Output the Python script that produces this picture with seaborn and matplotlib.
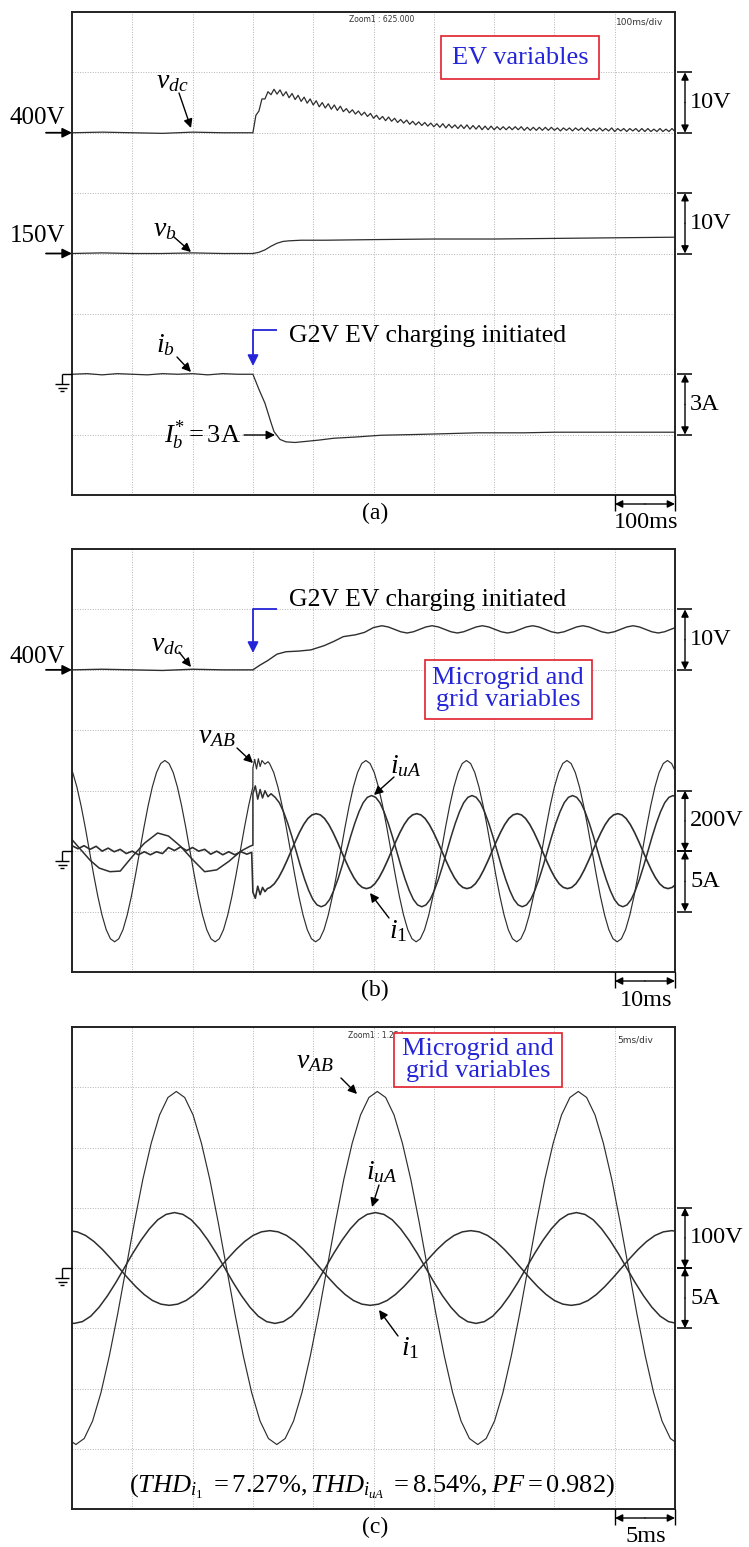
import numpy as np
import pandas as pd
import matplotlib
matplotlib.use("Agg")
import matplotlib.pyplot as plt
from matplotlib.patches import Rectangle
import seaborn as sns

# ---------------- data, read from the scope screens (units: divisions) ----------------
# Panel (a): 10 x 8 div, 100 ms/div ; vdc 10 V/div (400 V at div 6), vb 10 V/div (150 V at div 4), ib 3 A/div (0 at div 2)
VDC_A_PRE_X = [0.0, 0.5, 1.0, 1.5, 2.0, 2.5, 3.0]
VDC_A_PRE_Y = [6.00, 6.01, 6.00, 5.99, 6.01, 6.00, 6.00]
VDC_A_POST_X0 = 3.0
VDC_A_POST_DX = 0.05
VDC_A_POST_Y = [
    6.00, 6.29, 6.36, 6.56, 6.56, 6.68, 6.63, 6.72, 6.64, 6.71,
    6.61, 6.68, 6.58, 6.65, 6.55, 6.62, 6.52, 6.59, 6.49, 6.56,
    6.46, 6.53, 6.43, 6.50, 6.41, 6.48, 6.39, 6.46, 6.37, 6.44,
    6.35, 6.40, 6.33, 6.38, 6.31, 6.36, 6.29, 6.34, 6.27, 6.32,
    6.24, 6.29, 6.22, 6.27, 6.20, 6.26, 6.19, 6.24, 6.17, 6.22,
    6.16, 6.21, 6.14, 6.19, 6.13, 6.18, 6.12, 6.17, 6.11, 6.16,
    6.10, 6.15, 6.09, 6.15, 6.08, 6.14, 6.08, 6.13, 6.07, 6.13,
    6.07, 6.13, 6.06, 6.12, 6.06, 6.12, 6.05, 6.11, 6.05, 6.11,
    6.05, 6.10, 6.05, 6.10, 6.05, 6.10, 6.05, 6.10, 6.05, 6.10,
    6.04, 6.09, 6.04, 6.09, 6.04, 6.09, 6.04, 6.09, 6.04, 6.09,
    6.04, 6.08, 6.03, 6.08, 6.04, 6.08, 6.03, 6.08, 6.04, 6.08,
    6.03, 6.08, 6.03, 6.07, 6.03, 6.08, 6.03, 6.07, 6.03, 6.08,
    6.02, 6.07, 6.03, 6.07, 6.02, 6.07, 6.03, 6.07, 6.02, 6.07,
    6.02, 6.07, 6.02, 6.06, 6.02, 6.07, 6.02, 6.06, 6.02, 6.07,
    6.02]
VB_A_X = [0.0, 0.5, 1.0, 1.5, 2.0, 2.5, 3.0, 3.1, 3.2, 3.3, 3.4, 3.5, 3.6, 3.8, 4.2,
          5.0, 6.0, 7.0, 8.0, 9.0, 10.0]
VB_A_Y = [4.00, 4.01, 4.00, 4.00, 4.01, 4.00, 4.00, 4.02, 4.06, 4.12, 4.17, 4.20, 4.21, 4.22, 4.22,
          4.23, 4.24, 4.24, 4.25, 4.26, 4.27]
IB_A_X = [0.0, 0.25, 0.5, 0.75, 1.0, 1.25, 1.5, 1.75, 2.0, 2.25, 2.5, 2.75, 3.0,
          3.1, 3.2, 3.3, 3.35, 3.45, 3.55, 3.7, 3.9, 4.1, 4.34, 4.7, 5.13, 5.6, 6.0,
          6.72, 7.5, 8.0, 9.0, 10.0]
IB_A_Y = [2.00, 2.01, 1.99, 2.01, 2.00, 1.99, 2.01, 2.00, 2.01, 1.99, 2.01, 2.00, 2.00,
          1.75, 1.52, 1.20, 1.05, 0.92, 0.88, 0.87, 0.89, 0.91, 0.94, 0.96, 0.99, 1.00, 1.01,
          1.03, 1.03, 1.04, 1.04, 1.04]

# Panel (b): 10 x 7 div, 10 ms/div ; vdc 10 V/div (400 V at div 5), vAB 200 V/div, currents 5 A/div (0 at div 2)
PERIOD_B = 1.667
VDC_B_X = [0.0, 0.5, 1.0, 1.5, 2.0, 2.5, 3.0, 3.12, 3.24, 3.40, 3.55, 3.75, 3.96, 4.18, 4.34,
           4.50, 4.70, 4.85, 5.00]
VDC_B_Y = [5.00, 5.01, 5.00, 4.99, 5.01, 5.00, 5.00, 5.08, 5.15, 5.26, 5.30, 5.31, 5.33, 5.40, 5.47,
           5.55, 5.58, 5.62, 5.70]
VDC_B_RIPPLE = [5.73, 5.71, 5.67, 5.63, 5.61, 5.63, 5.67, 5.71]
VDC_B_RIPPLE_PEAK = 5.14
VDC_B_RIPPLE_PERIOD = 0.833
VAB_B_CYCLE = [3.50, 3.45, 3.30, 3.06, 2.75, 2.39, 2.00, 1.61, 1.25, 0.94, 0.70, 0.55,
               0.50, 0.55, 0.70, 0.94, 1.25, 1.61, 2.00, 2.39, 2.75, 3.06, 3.30, 3.45]
VAB_B_PEAK = 1.54
VAB_B_JUMP_X = [3.0, 3.03, 3.06, 3.09, 3.12, 3.15, 3.20, 3.25]
VAB_B_JUMP_Y = [3.38, 3.52, 3.36, 3.53, 3.40, 3.50, 3.44, 3.48]
IUA_B_PRE_X = [0.0, 0.15, 0.3, 0.45, 0.63, 0.8, 1.0, 1.2, 1.42, 1.6, 1.8, 2.0, 2.2, 2.4, 2.6,
               2.8, 2.95, 3.0]
IUA_B_PRE_Y = [2.19, 2.02, 1.85, 1.72, 1.66, 1.67, 1.91, 2.13, 2.30, 2.25, 2.08, 1.86, 1.66, 1.69,
               1.83, 2.00, 2.08, 2.10]
IUA_B_JUMP_X = [3.0, 3.04, 3.08, 3.12, 3.16, 3.20, 3.25, 3.30]
IUA_B_JUMP_Y = [2.95, 3.08, 2.86, 3.02, 2.88, 3.00, 2.90, 2.95]
IUA_B_CYCLE = [2.92, 2.89, 2.80, 2.65, 2.46, 2.24, 2.00, 1.76, 1.54, 1.35, 1.20, 1.11,
               1.08, 1.11, 1.20, 1.35, 1.54, 1.76, 2.00, 2.24, 2.46, 2.65, 2.80, 2.89]
IUA_B_PEAK = 3.30
I1_B_PRE_X = [0.0, 0.1, 0.2, 0.3, 0.4, 0.5, 0.6, 0.7, 0.8, 0.9, 1.0, 1.1, 1.2, 1.3, 1.4, 1.5,
              1.6, 1.7, 1.8, 1.9, 2.0, 2.1, 2.2, 2.3, 2.4, 2.5, 2.6, 2.7, 2.8, 2.9, 2.98]
I1_B_PRE_Y = [2.09, 2.04, 2.09, 2.03, 2.08, 2.00, 2.05, 1.99, 2.03, 1.96, 2.00, 1.94, 1.99, 1.94,
              1.99, 1.96, 2.06, 2.01, 2.07, 2.01, 2.06, 2.00, 2.03, 1.95, 2.00, 1.94, 1.99, 1.94,
              1.99, 1.95, 1.98]
I1_B_JUMP_X = [3.0, 3.04, 3.08, 3.12, 3.16, 3.20, 3.24]
I1_B_JUMP_Y = [1.32, 1.22, 1.42, 1.28, 1.40, 1.33, 1.38]
I1_B_CYCLE = [2.62, 2.60, 2.54, 2.44, 2.31, 2.16, 2.00, 1.84, 1.69, 1.56, 1.46, 1.40,
              1.38, 1.40, 1.46, 1.56, 1.69, 1.84, 2.00, 2.16, 2.31, 2.44, 2.54, 2.60]
I1_B_PEAK = 4.05

# Panel (c): 10 x 8 div, 5 ms/div ; vAB 100 V/div, currents 5 A/div (0 at div 4)
PERIOD_C = 3.333
VAB_C_CYCLE = [6.93, 6.83, 6.54, 6.07, 5.47, 4.76, 4.00, 3.24, 2.54, 1.93, 1.46, 1.17,
               1.07, 1.17, 1.46, 1.93, 2.54, 3.24, 4.00, 4.76, 5.47, 6.07, 6.54, 6.83]
VAB_C_PEAK = 1.73
IUA_C_CYCLE = [4.92, 4.89, 4.80, 4.65, 4.46, 4.24, 4.00, 3.76, 3.54, 3.35, 3.20, 3.11,
               3.08, 3.11, 3.20, 3.35, 3.54, 3.76, 4.00, 4.24, 4.46, 4.65, 4.80, 4.89]
IUA_C_PEAK = 1.70
I1_C_CYCLE = [4.62, 4.60, 4.54, 4.44, 4.31, 4.16, 4.00, 3.84, 3.69, 3.56, 3.46, 3.40,
              3.38, 3.40, 3.46, 3.56, 3.69, 3.84, 4.00, 4.16, 4.31, 4.44, 4.54, 4.60]
I1_C_PEAK = 3.28

# ---------------- style ----------------
sns.set_theme(style="white")
plt.rcParams["font.family"] = ["Liberation Serif", "DejaVu Serif"]
plt.rcParams["mathtext.fontset"] = "custom"
plt.rcParams["mathtext.rm"] = "Liberation Serif"
plt.rcParams["mathtext.it"] = "Liberation Serif:italic"
plt.rcParams["mathtext.bf"] = "Liberation Serif:bold"

TRACE = "#2e2e2e"
BLUE = "#2424d8"
RED = "#e0202c"

W, H = 749, 1547
fig = plt.figure(figsize=(W / 100, H / 100), dpi=100)
fig.patch.set_facecolor("white")

XL, XR = 72, 675
PANELS = [(12, 495, 8), (549, 972, 7), (1027, 1509, 8)]


def tile(cycle, x_peak, period, xa, xb):
    cyc = np.asarray(cycle, float)
    n = len(cyc)
    step = period / n
    k = np.arange(int(np.ceil((xa - x_peak) / step)), int(np.floor((xb - x_peak) / step)) + 1)
    return x_peak + k * step, cyc[k % n]


def join(*parts):
    xs = np.concatenate([np.asarray(p[0], float) for p in parts])
    ys = np.concatenate([np.asarray(p[1], float) for p in parts])
    return xs, ys


def draw(ax, xy, lw=0.9, color=TRACE):
    df = pd.DataFrame({"x": xy[0], "y": xy[1]})
    sns.lineplot(data=df, x="x", y="y", ax=ax, estimator=None, sort=False,
                 color=color, linewidth=lw, legend=False)


axes = []
for top, bot, nd in PANELS:
    ax = fig.add_axes([XL / W, 1 - bot / H, (XR - XL) / W, (bot - top) / H])
    axes.append(ax)

# panel (a)
ax = axes[0]
draw(ax, join((VDC_A_PRE_X, VDC_A_PRE_Y),
              (VDC_A_POST_X0 + VDC_A_POST_DX * np.arange(len(VDC_A_POST_Y)), VDC_A_POST_Y)), lw=0.9)
draw(ax, (VB_A_X, VB_A_Y), lw=0.9)
draw(ax, (IB_A_X, IB_A_Y), lw=0.9)

# panel (b)
ax = axes[1]
draw(ax, join((VDC_B_X, VDC_B_Y),
              tile(VDC_B_RIPPLE, VDC_B_RIPPLE_PEAK, VDC_B_RIPPLE_PERIOD, 5.05, 10.2)), lw=1.0)
draw(ax, join(tile(VAB_B_CYCLE, VAB_B_PEAK, PERIOD_B, -0.2, 3.0),
              (VAB_B_JUMP_X, VAB_B_JUMP_Y),
              tile(VAB_B_CYCLE, VAB_B_PEAK, PERIOD_B, 3.27, 10.2)), lw=0.85)
draw(ax, join((IUA_B_PRE_X, IUA_B_PRE_Y), (IUA_B_JUMP_X, IUA_B_JUMP_Y),
              tile(IUA_B_CYCLE, IUA_B_PEAK, PERIOD_B, 3.33, 10.2)), lw=1.1)
draw(ax, join((I1_B_PRE_X, I1_B_PRE_Y), (I1_B_JUMP_X, I1_B_JUMP_Y),
              tile(I1_B_CYCLE, I1_B_PEAK, PERIOD_B, 3.26, 10.2)), lw=1.2)

# panel (c)
ax = axes[2]
draw(ax, tile(VAB_C_CYCLE, VAB_C_PEAK, PERIOD_C, -0.2, 10.2), lw=0.85)
draw(ax, tile(IUA_C_CYCLE, IUA_C_PEAK, PERIOD_C, -0.2, 10.2), lw=1.1)
draw(ax, tile(I1_C_CYCLE, I1_C_PEAK, PERIOD_C, -0.2, 10.2), lw=1.1)

for ax, (top, bot, nd) in zip(axes, PANELS):
    ax.set_xlim(0, 10)
    ax.set_ylim(0, nd)
    ax.set_xticks(range(11))
    ax.set_yticks(range(nd + 1))
    ax.tick_params(length=0, labelbottom=False, labelleft=False)
    ax.set_xlabel("")
    ax.set_ylabel("")
    ax.grid(True, color="#b4b4b4", linestyle=(0, (1, 1.6)), linewidth=0.7)
    ax.set_axisbelow(True)
    ax.set_facecolor("white")
    for s in ax.spines.values():
        s.set_color("#222222")
        s.set_linewidth(1.4)

# ---------------- overlay in pixel coordinates for annotations ----------------
ov = fig.add_axes([0, 0, 1, 1])
ov.set_xlim(0, W)
ov.set_ylim(H, 0)
ov.axis("off")


def T(x, y, s, size=18, ha="center", va="center", color="black", **kw):
    ov.text(x, y, s, fontsize=size, ha=ha, va=va, color=color, **kw)


def A(x0, y0, x1, y1, color="black", lw=1.0, ms=13, style="-|>"):
    ov.annotate("", xy=(x1, y1), xytext=(x0, y0),
                arrowprops=dict(arrowstyle=style, color=color, lw=lw, mutation_scale=ms,
                                shrinkA=0, shrinkB=0))


def L(xs, ys, color="black", lw=1.0):
    ov.plot(xs, ys, color=color, lw=lw, solid_capstyle="butt")


def py(i, div):
    top, bot, nd = PANELS[i]
    return bot - div * (bot - top) / nd


def rscale(y1, y2, label):
    L([677, 692], [y1, y1], lw=1.1)
    L([677, 692], [y2, y2], lw=1.1)
    A(685, (y1 + y2) / 2, 685, y1, ms=11)
    A(685, (y1 + y2) / 2, 685, y2, ms=11)
    T(690, (y1 + y2) / 2, label, size=17.5, ha="left")


def left_level(y, label, dy):
    A(46, y, 72, y, lw=1.3, ms=14)
    T(10, y - dy, label, size=18, ha="left")


def ground(y):
    L([62, 72], [y, y], lw=1.0)
    L([62, 62], [y, y + 10], lw=1.0)
    L([55, 69], [y + 10, y + 10], lw=1.0)
    L([57.5, 66.5], [y + 13.5, y + 13.5], lw=1.0)
    L([60, 64], [y + 17, y + 17], lw=1.0)


def bottom(i, tag, span):
    top, bot, nd = PANELS[i]
    T(375, bot + 18, tag, size=17)
    L([615, 615], [bot, bot + 16], lw=1.0)
    L([675, 675], [bot, bot + 16], lw=1.0)
    A(645, bot + 9, 615, bot + 9, ms=11)
    A(645, bot + 9, 675, bot + 9, ms=11)
    T(646, bot + 28, span, size=17.5)


def box(x0, y0, x1, y1, text, cx, cy):
    ov.add_patch(Rectangle((x0, y0), x1 - x0, y1 - y0, facecolor="white",
                           edgecolor=RED, lw=1.2, zorder=3))
    ov.text(cx, cy, text, fontsize=19, ha="center", va="center", color=BLUE,
            linespacing=1.0, zorder=4)


# ---- panel (a) annotations
T(382, 19, "Zoom1 : 625.000", size=5.5, family="DejaVu Sans", color="#333333")
T(640, 22, "100ms/div", size=6.5, family="DejaVu Sans", color="#333333")
box(441, 36, 599, 79, "EV variables", 520, 58)
T(172, 82, r"$v_{dc}$", size=20)
A(179, 93, 191, 128)
left_level(py(0, 6), "400V", 15)
rscale(py(0, 7), py(0, 6), "10V")
T(165, 230, r"$v_b$", size=20)
A(174, 237, 191, 252)
left_level(py(0, 4), "150V", 18)
rscale(py(0, 5), py(0, 4), "10V")
T(165, 345, r"$i_b$", size=20)
A(177, 357, 191, 372)
ground(py(0, 2))
L([277, 253], [330, 330], color=BLUE, lw=1.3)
A(253, 330, 253, 366, color=BLUE, lw=1.3, ms=16)
T(289, 336, "G2V EV charging initiated", size=18.5, ha="left")
T(241, 435, r"$I_b^{*} = 3\mathrm{A}$", size=19, ha="right")
A(244, 435, 275, 435)
rscale(py(0, 2), py(0, 1), "3A")
bottom(0, "(a)", "100ms")

# ---- panel (b) annotations
L([277, 253], [609, 609], color=BLUE, lw=1.3)
A(253, 609, 253, 653, color=BLUE, lw=1.3, ms=16)
T(289, 600, "G2V EV charging initiated", size=18.5, ha="left")
T(167, 645, r"$v_{dc}$", size=20)
A(179, 652, 191, 667)
left_level(py(1, 5), "400V", 13)
rscale(py(1, 6), py(1, 5), "10V")
box(425, 660, 592, 719, "Microgrid and\ngrid variables", 508, 689)
T(217, 737, r"$v_{AB}$", size=20)
A(237, 748, 253, 763)
T(406, 766, r"$i_{uA}$", size=20)
A(394, 777, 374, 795)
T(398, 931, r"$i_1$", size=20)
A(389, 918, 370, 893)
ground(py(1, 2))
rscale(py(1, 3), py(1, 2), "200V")
rscale(py(1, 2), py(1, 1), "5A")
bottom(1, "(b)", "10ms")

# ---- panel (c) annotations
T(377, 1035, "Zoom1 : 1.25 k", size=5.5, family="DejaVu Sans", color="#333333")
T(635, 1040, "5ms/div", size=6.5, family="DejaVu Sans", color="#333333")
box(394, 1033, 562, 1087, "Microgrid and\ngrid variables", 478, 1060)
T(315, 1062, r"$v_{AB}$", size=20)
A(341, 1078, 357, 1094)
T(382, 1172, r"$i_{uA}$", size=20)
A(379, 1185, 372, 1207)
T(410, 1348, r"$i_1$", size=20)
A(398, 1336, 379, 1310)
ground(py(2, 4))
rscale(py(2, 5), py(2, 4), "100V")
rscale(py(2, 4), py(2, 3), "5A")
T(372, 1487, r"$(THD_{i_1}\ = 7.27\%, THD_{i_{uA}}\ = 8.54\%, PF = 0.982)$", size=19)
bottom(2, "(c)", "5ms")

fig.savefig("out.png", dpi=100, facecolor="white")
